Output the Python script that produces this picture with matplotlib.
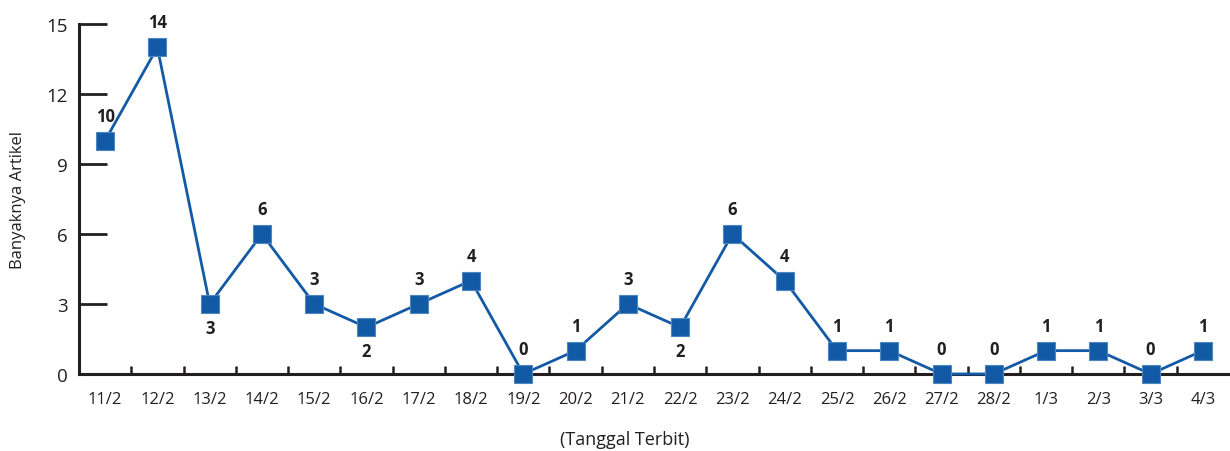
import numpy as np
import matplotlib
matplotlib.use('Agg')
import matplotlib.pyplot as plt

plt.rcParams['font.family'] = ['Open Sans', 'DejaVu Sans']

tanggal = ['11/2', '12/2', '13/2', '14/2', '15/2', '16/2', '17/2', '18/2', '19/2',
           '20/2', '21/2', '22/2', '23/2', '24/2', '25/2', '26/2', '27/2', '28/2',
           '1/3', '2/3', '3/3', '4/3']
jumlah = [10, 14, 3, 6, 3, 2, 3, 4, 0, 1, 3, 2, 6, 4, 1, 1, 0, 0, 1, 1, 0, 1]
# label di bawah titik untuk 13/2, 16/2, 22/2
label_bawah = ['13/2', '16/2', '22/2']

biru = '#125aa6'
gelap = '#231f20'

fig = plt.figure(figsize=(12.3, 4.52), dpi=100)
ax = fig.add_axes([0.0642, 0.1704, 0.9350, 0.7743])

x = np.arange(len(tanggal))
ax.plot(x, jumlah, color=biru, lw=2, marker='s', ms=12.5, mfc=biru,
        mec='#4f86c2', mew=0.8, clip_on=False, zorder=5)

for xi, nama, v in zip(x, tanggal, jumlah):
    if nama in label_bawah:
        dy = -17
    else:
        dy = 18
    ax.annotate(str(v), (xi, v), xytext=(0, dy), textcoords='offset points',
                ha='center', va='center', fontsize=12, fontweight='bold',
                color=gelap)

ax.set_xlim(-0.5, len(tanggal) - 0.5)
ax.set_ylim(0, 15)
ax.set_yticks([0, 3, 6, 9, 12, 15])
ax.set_xticks(x)
ax.set_xticklabels(tanggal)
ax.set_xticks(np.arange(0.5, len(tanggal) - 0.5, 1), minor=True)

ax.tick_params(axis='y', direction='in', length=20, width=2, color=gelap,
               labelsize=13.5, labelcolor=gelap, pad=8)
ax.tick_params(axis='x', which='major', length=0, labelsize=12,
               labelcolor=gelap, pad=12)
ax.tick_params(axis='x', which='minor', direction='in', length=6, width=1.8,
               color=gelap)

for s in ['top', 'right']:
    ax.spines[s].set_visible(False)
for s in ['left', 'bottom']:
    ax.spines[s].set_color(gelap)
    ax.spines[s].set_linewidth(2.2)

ax.set_ylabel('Banyaknya Artikel', fontsize=12, color=gelap)
ax.yaxis.set_label_coords(-0.046, 0.5)
ax.set_xlabel('(Tanggal Terbit)', fontsize=13, color=gelap, va='center')
ax.xaxis.set_label_coords(0.475, -0.186)

plt.savefig('out.png', dpi=100)
